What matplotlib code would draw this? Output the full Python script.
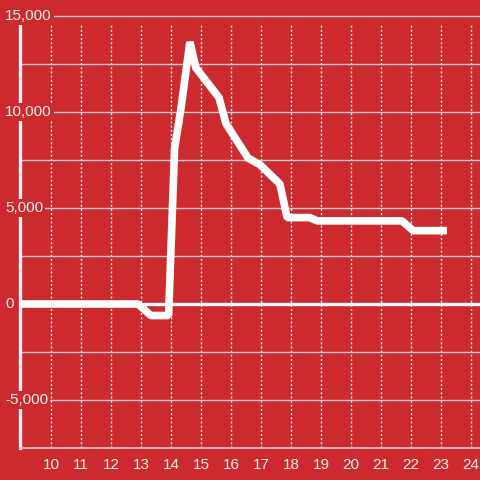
import matplotlib
matplotlib.use('Agg')
import matplotlib.pyplot as plt

# hours of the day and value at each point
hours = [9.0, 12.9, 13.33, 13.92, 14.12, 14.32, 14.63, 14.83, 15.6, 15.83,
         16.57, 16.97, 17.63, 17.87, 18.63, 18.87, 21.7, 22.07, 23.2]
values = [0, 0, -600, -600, 8100, 10050, 13650, 12300, 10750, 9400,
          7600, 7250, 6250, 4500, 4500, 4330, 4330, 3820, 3820]

x_ticks = list(range(10, 25))
y_ticks = [15000, 12500, 10000, 7500, 5000, 2500, 0, -2500, -5000, -7500]
y_labels = {15000: '15,000', 10000: '10,000', 5000: '5,000', 0: '0', -5000: '-5,000'}

bg = '#cc2a2e'
plt.rcParams['font.family'] = ['Liberation Sans', 'DejaVu Sans']

fig = plt.figure(figsize=(4.8, 4.8), dpi=100, facecolor=bg)
ax = fig.add_axes([20 / 480, 32 / 480, 460 / 480, 424 / 480], facecolor=bg)
ax.set_xlim(8.967, 24.3)
ax.set_ylim(-7500, 14583)

for sp in ['top', 'right']:
    ax.spines[sp].set_visible(False)
ax.spines['left'].set_color('#f2f2f2')
ax.spines['left'].set_linewidth(2.4)
ax.spines['bottom'].set_color('#cccccc')
ax.spines['bottom'].set_linewidth(1.2)

for x in x_ticks:
    ax.axvline(x, color='#e6e6e6', lw=1, dashes=(1.5, 1.5), zorder=1)
for y in y_ticks[1:-1]:
    if y == 0:
        continue
    ax.axhline(y, color='#cccccc', lw=1, zorder=1)
ax.axhline(15000, color='#cccccc', lw=1, zorder=1, clip_on=False)
ax.axhline(0, color='white', lw=2.4, zorder=2)

ax.plot(hours, values, color='white', lw=5.5, solid_joinstyle='bevel',
        solid_capstyle='butt', zorder=3)

ax.set_xticks(x_ticks)
ax.tick_params(axis='x', length=0, labelsize=11, labelcolor='#f0f0f0', pad=7)
ax.set_yticks([])

for y, lab in y_labels.items():
    ax.annotate(lab, xy=(0, y), xycoords=('axes fraction', 'data'),
                xytext=(-15, 0), textcoords='offset pixels',
                ha='left', va='center', fontsize=11, color='#f0f0f0',
                bbox=dict(boxstyle='square,pad=0.15', fc=bg, ec='none'),
                annotation_clip=False, zorder=5)

fig.savefig('out.png', dpi=100, facecolor=bg)
